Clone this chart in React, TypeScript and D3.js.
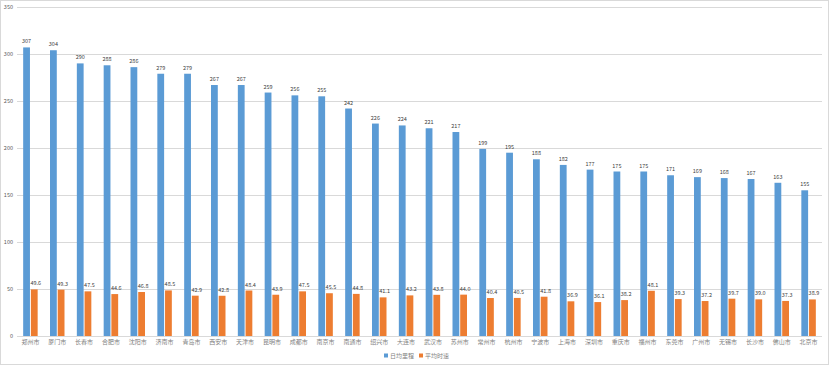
import { useEffect, useRef } from "react";
import * as d3 from "d3";

const cities = [
  "郑州市", "厦门市", "长春市", "合肥市", "沈阳市", "济南市", "青岛市", "西安市", "天津市", "昆明市",
  "成都市", "南京市", "南通市", "绍兴市", "大连市", "武汉市", "苏州市", "常州市", "杭州市", "宁波市",
  "上海市", "深圳市", "重庆市", "福州市", "东莞市", "广州市", "无锡市", "长沙市", "佛山市", "北京市",
];
const dailyMileage = [
  307, 304, 290, 288, 286, 279, 279, 267, 267, 259,
  256, 255, 242, 226, 224, 221, 217, 199, 195, 188,
  182, 177, 175, 175, 171, 169, 168, 167, 163, 155,
];
const avgSpeed = [
  49.6, 49.3, 47.5, 44.6, 46.8, 48.5, 42.9, 42.8, 48.4, 43.9,
  47.5, 45.5, 44.8, 41.1, 43.2, 43.8, 44.0, 40.4, 40.5, 41.8,
  36.9, 36.1, 38.2, 48.1, 39.3, 37.2, 39.7, 39.0, 37.3, 38.9,
];
const seriesNames = ["日均里程", "平均时速"];
const yTicks = [0, 50, 100, 150, 200, 250, 300, 350];

const colors = ["#5b9bd5", "#ed7d31"];
const font = "'Noto Sans CJK SC', 'Noto Sans', sans-serif";

export default function App() {
  const ref = useRef<SVGSVGElement | null>(null);

  useEffect(() => {
    const width = 830;
    const height = 367;
    const margin = { top: 7, right: 8, bottom: 31, left: 17 };

    const svg = d3.select(ref.current);
    svg.selectAll("*").remove();
    svg.attr("width", width).attr("height", height);

    svg.append("rect")
      .attr("x", 0.5).attr("y", 0.5)
      .attr("width", width - 2).attr("height", height - 3)
      .attr("fill", "white").attr("stroke", "#d9d9d9");

    const x = d3.scaleBand<string>()
      .domain(cities)
      .range([margin.left, width - margin.right])
      .paddingInner(0.46)
      .paddingOuter(0.23);
    const xs = d3.scaleBand<number>().domain([0, 1]).range([0, x.bandwidth()]).paddingInner(0.12);
    const y = d3.scaleLinear().domain([0, 350]).range([height - margin.bottom, margin.top]);

    // grid
    svg.append("g")
      .selectAll("line")
      .data(yTicks)
      .join("line")
      .attr("x1", margin.left).attr("x2", width - margin.right)
      .attr("y1", (d) => Math.round(y(d)) + 0.5).attr("y2", (d) => Math.round(y(d)) + 0.5)
      .attr("stroke", "#d9d9d9").attr("stroke-width", 1);

    svg.append("g")
      .selectAll("text")
      .data(yTicks)
      .join("text")
      .attr("x", 13).attr("y", (d) => y(d))
      .attr("dy", "0.35em")
      .attr("text-anchor", "end")
      .attr("font-family", font).attr("font-size", 5.5)
      .attr("fill", "#595959")
      .text((d) => d);

    const rows = cities.map((c, i) => ({ city: c, vals: [dailyMileage[i], avgSpeed[i]] }));
    const g = svg.append("g");
    rows.forEach((r) => {
      r.vals.forEach((v, s) => {
        const bx = (x(r.city) ?? 0) + (xs(s) ?? 0);
        g.append("rect")
          .attr("x", bx).attr("y", y(v))
          .attr("width", xs.bandwidth()).attr("height", y(0) - y(v))
          .attr("fill", colors[s]);
        g.append("text")
          .attr("x", bx + xs.bandwidth() / 2 + (s === 1 ? 1.5 : 0))
          .attr("y", y(v) - 4)
          .attr("text-anchor", "middle")
          .attr("font-family", font).attr("font-size", 5.5)
          .attr("fill", "#404040")
          .text(s === 1 ? v.toFixed(1) : v);
      });
    });

    svg.append("g")
      .selectAll("text")
      .data(cities)
      .join("text")
      .attr("x", (d) => (x(d) ?? 0) + x.bandwidth() / 2)
      .attr("y", height - margin.bottom + 6)
      .attr("dy", "0.35em")
      .attr("text-anchor", "middle")
      .attr("font-family", font).attr("font-size", 6)
      .attr("fill", "#7f7f7f")
      .text((d) => d);

    // legend
    const lg = svg.append("g").attr("transform", "translate(384,356)");
    let lx = 0;
    seriesNames.forEach((n, i) => {
      lg.append("rect").attr("x", lx).attr("y", -2.5).attr("width", 4).attr("height", 4).attr("fill", colors[i]);
      const t = lg.append("text")
        .attr("x", lx + 6).attr("y", 0).attr("dy", "0.35em")
        .attr("font-family", font).attr("font-size", 6)
        .attr("fill", "#7f7f7f")
        .text(n);
      lx += 6 + (t.node() as SVGTextElement).getComputedTextLength() + 5;
    });
  }, []);

  return <svg ref={ref} style={{ position: "absolute", left: 0, top: 0 }} />;
}
